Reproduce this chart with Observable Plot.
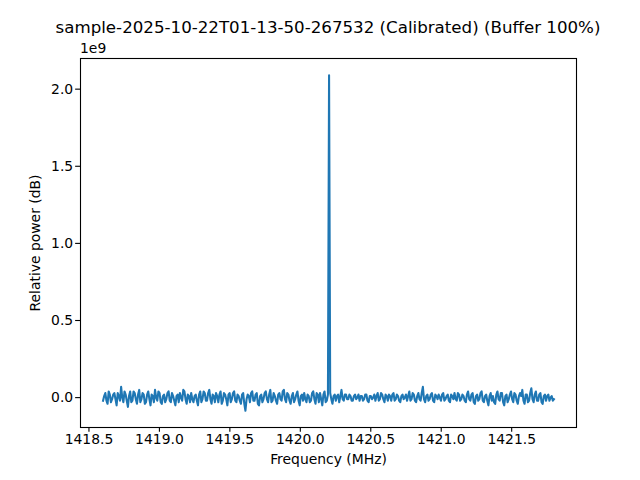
<!DOCTYPE html>
<html>
<head>
<meta charset="utf-8">
<script src="https://cdn.jsdelivr.net/npm/d3@7"></script>
<script src="https://cdn.jsdelivr.net/npm/@observablehq/plot@0.6"></script>
<style>
  html, body { margin: 0; padding: 0; background: #fff; }
  #wrap { position: relative; width: 640px; height: 480px; font-family: "DejaVu Sans", sans-serif; }
  #title { position: absolute; left: 0; width: 656px; top: 18px; text-align: center; font-size: 16.67px; color: #000; white-space: nowrap; }
  #offset { position: absolute; left: 80px; top: 40px; font-size: 13.9px; color: #000; }
  #chart { position: absolute; left: 0; top: 0; }
</style>
</head>
<body>
<div id="wrap">
  <div id="chart"></div>
  <div id="title"></div>
  <div id="offset"></div>
</div>
<script>
const title = "sample-2025-10-22T01-13-50-267532 (Calibrated) (Buffer 100%)";
const xLabel = "Frequency (MHz)";
const yLabel = "Relative power (dB)";
const yOffsetLabel = "1e9";
const freqStart = 1418.6;
const freqEnd = 1421.8;
const xTicks = [1418.5, 1419.0, 1419.5, 1420.0, 1420.5, 1421.0, 1421.5];
const yTicks = [0.0, 0.5, 1.0, 1.5, 2.0];
// relative power, in units of 1e9, one value per frequency bin
const power = [
  -0.02, 0.01, 0.03, -0.02, -0.04, 0.04, 0.02, -0.03, -0.01, 0.02, 0.03, -0.01, -0.05, 0.03, 0.01, -0.02, 0.07, 0.00, -0.03, 0.04,
  0.02, -0.02, -0.06, 0.01, 0.04, -0.03, -0.02, 0.04, 0.03, -0.01, -0.04, 0.02, 0.05, -0.03, -0.01, 0.03, 0.02, -0.04, -0.03, 0.02,
  0.04, -0.01, -0.05, 0.02, 0.01, -0.03, 0.05, 0.00, -0.02, 0.04, 0.03, -0.03, -0.04, 0.01, 0.02, -0.03, -0.01, 0.03, 0.04, -0.02,
  -0.03, 0.03, 0.01, -0.02, -0.05, 0.01, 0.02, -0.03, 0.03, 0.00, -0.02, 0.05, 0.04, -0.01, -0.04, 0.02, 0.01, -0.03, 0.03, -0.01,
  -0.03, 0.01, 0.02, -0.02, -0.05, 0.02, 0.04, -0.03, -0.01, 0.04, 0.03, -0.02, -0.02, 0.03, 0.05, -0.01, -0.04, 0.02, 0.01, -0.03,
  0.03, 0.01, -0.03, 0.02, 0.04, -0.04, -0.02, 0.03, 0.02, -0.01, -0.05, 0.02, 0.03, -0.03, -0.01, 0.03, 0.04, -0.02, -0.03, 0.02,
  0.01, -0.02, -0.04, 0.02, 0.03, -0.04, -0.085, -0.01, 0.02, 0.01, -0.03, 0.03, 0.04, -0.02, -0.02, 0.02, 0.03, -0.04, -0.05, 0.01,
  0.02, -0.03, -0.01, 0.03, 0.04, -0.01, -0.03, 0.02, 0.05, -0.03, -0.02, 0.03, 0.01, -0.02, -0.04, 0.02, 0.03, -0.01, -0.02, 0.04,
  0.05, -0.01, -0.03, 0.03, 0.02, -0.02, -0.04, 0.01, 0.03, -0.03, -0.01, 0.02, 0.04, -0.02, -0.05, 0.01, 0.02, -0.02, 0.03, -0.01,
  -0.03, 0.02, 0.01, -0.03, -0.02, 0.03, 0.04, -0.01, -0.04, 0.03, 0.02, -0.03, 0.03, -0.01, -0.05, 0.02, 0.04, -0.03, -0.02, 0.02,
  2.09,
  0.03, -0.01, -0.04, 0.01, 0.02, -0.02, 0.01, 0.02, -0.03, 0.01, 0.05, -0.01, -0.02, 0.02, 0.02, -0.01, -0.01, 0.02, 0.01, -0.02,
  -0.02, 0.01, 0.02, -0.01, 0.00, 0.02, -0.02, 0.01, 0.01, -0.02, -0.01, 0.02, 0.02, -0.02, -0.03, 0.01, 0.01, -0.01, 0.00, 0.02,
  -0.02, 0.01, 0.03, -0.02, -0.01, 0.03, 0.02, -0.01, -0.03, 0.02, 0.01, -0.02, 0.02, 0.01, -0.02, 0.02, 0.03, -0.02, -0.01, 0.02,
  0.01, -0.02, -0.03, 0.01, 0.02, -0.01, 0.00, 0.02, -0.02, 0.01, 0.04, -0.02, -0.01, 0.03, 0.02, -0.02, -0.03, 0.01, 0.03, -0.01,
  -0.02, 0.03, 0.07, -0.01, -0.03, 0.01, 0.02, -0.02, -0.01, 0.02, 0.03, -0.02, -0.03, 0.02, 0.01, -0.01, 0.02, 0.00, -0.02, 0.02,
  0.03, -0.02, -0.01, 0.01, 0.02, -0.02, -0.03, 0.02, 0.01, -0.01, 0.03, -0.01, -0.02, 0.03, 0.02, -0.02, -0.01, 0.02, 0.01, -0.02,
  -0.03, 0.02, 0.04, -0.01, -0.02, 0.02, 0.03, -0.03, -0.04, 0.01, 0.02, -0.02, -0.01, 0.03, 0.04, -0.02, -0.03, 0.01, 0.02, -0.02,
  -0.05, 0.01, 0.03, -0.02, 0.01, -0.03, -0.04, 0.02, 0.04, -0.01, -0.02, 0.03, 0.03, -0.03, -0.05, 0.01, 0.02, -0.03, -0.01, 0.02,
  0.04, -0.01, -0.03, 0.03, 0.02, -0.02, -0.04, 0.01, 0.03, 0.01, 0.05, -0.02, -0.04, 0.02, 0.02, -0.03, -0.02, 0.03, 0.06, -0.01,
  -0.03, 0.02, 0.04, -0.02, -0.02, 0.02, 0.03, -0.03, -0.04, 0.01, 0.02, -0.02, 0.01, 0.02, -0.02, 0.00, 0.01, -0.02, -0.01
];

const n = power.length;
const data = power.map((v, i) => ({f: freqStart + (freqEnd - freqStart) * i / (n - 1), p: v}));

const fPad = (freqEnd - freqStart) * 0.05;
const pMin = d3.min(power), pMax = d3.max(power);
const pPad = (pMax - pMin) * 0.05;

document.getElementById("title").textContent = title;
document.getElementById("offset").textContent = yOffsetLabel;

const chart = Plot.plot({
  width: 640,
  height: 480,
  marginLeft: 80,
  marginRight: 64,
  marginTop: 58,
  marginBottom: 53,
  style: {fontFamily: "DejaVu Sans, sans-serif", fontSize: "13.9px", color: "#000", background: "#fff"},
  x: {domain: [freqStart - fPad, freqEnd + fPad]},
  y: {domain: [pMin - pPad, pMax + pPad]},
  marks: [
    Plot.line(data, {x: "f", y: "p", stroke: "#1f77b4", strokeWidth: 2.08, strokeLinejoin: "round", strokeLinecap: "square"}),
    Plot.axisX({ticks: xTicks, tickFormat: d3.format(".1f"), tickSize: 4.86, tickPadding: 2, label: xLabel, labelAnchor: "center", labelArrow: "none", labelOffset: 36, stroke: "#000", strokeOpacity: 1, strokeWidth: 1.1, fill: "#000"}),
    Plot.axisY({ticks: yTicks, tickFormat: d3.format(".1f"), tickSize: 4.86, tickPadding: 2.5, label: yLabel, labelAnchor: "center", labelArrow: "none", labelOffset: 50, stroke: "#000", strokeOpacity: 1, strokeWidth: 1.1, fill: "#000"}),
    Plot.frame({stroke: "#000", strokeWidth: 1.1})
  ]
});
document.getElementById("chart").appendChild(chart);
</script>
</body>
</html>
